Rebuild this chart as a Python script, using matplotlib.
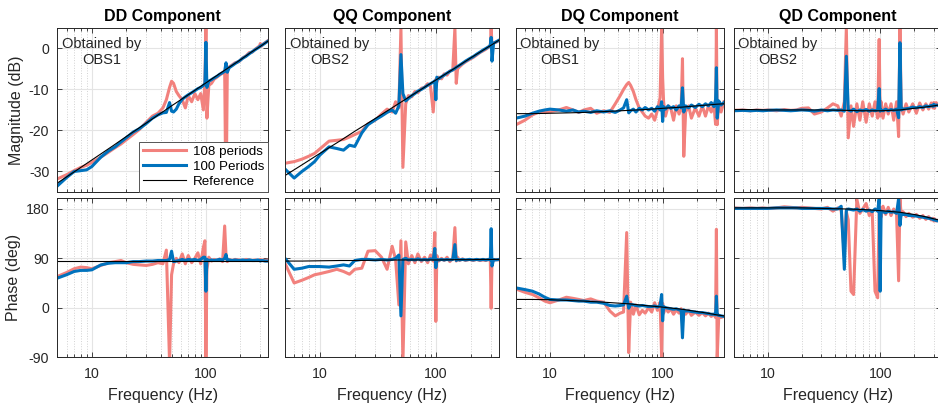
import matplotlib
matplotlib.use('Agg')
import matplotlib.pyplot as plt
import matplotlib.ticker as ticker

plt.rcParams['font.family'] = ['Liberation Sans', 'DejaVu Sans']
plt.rcParams['axes.unicode_minus'] = False

# measured frequency points (Hz)
freq = [5, 6, 7, 8, 9, 10, 12, 14, 16, 18,
        20, 23, 26, 30, 34, 38, 42, 45, 48, 50,
        52, 55, 58, 62, 66, 70, 75, 80, 85, 90,
        95, 98, 100, 102, 106, 112, 118, 125, 132, 140,
        146, 150, 154, 160, 170, 180, 195, 210, 225, 240,
        255, 270, 285, 295, 300, 305, 315, 330, 350]

# reference model points
ref_freq = [5, 7, 10, 15, 20, 30, 50, 70, 100, 150, 200, 250, 300, 350]

# ---- DD ----
dd_mag_108 = [-31.8, -30.8, -29.8, -29.0, -28.5, -27.8, -26.5, -25.3, -24.2, -23.3,
              -22.3, -21.0, -19.8, -18.0, -16.5, -15.8, -14.5, -12.5, -9.5, -8.0,
              -8.5, -10.5, -11.5, -12.5, -14.5, -11.5, -13.0, -11.0, -12.5, -11.0,
              -15.0, -8.0, 5.0, -17.0, -9.0, -8.5, -7.5, -7.0, -6.5, -6.0,
              -5.5, -40.0, -5.0, -4.5, -4.0, -3.5, -3.2, -2.3, -1.8, -1.0,
              -0.9, -0.2, 0.3, 0.6, 1.2, 0.5, 1.0, 1.4, 1.9]
dd_mag_100 = [-33.5, -31.5, -30.0, -29.8, -29.6, -28.8, -26.5, -25.0, -24.0, -22.8,
              -21.8, -20.4, -19.6, -18.3, -17.0, -16.2, -15.7, -15.6, -13.2, -15.3,
              -15.5, -14.8, -13.5, -12.4, -11.8, -11.3, -10.8, -10.3, -9.8, -9.5,
              -9.0, -8.5, 1.5, -9.5, -8.0, -7.6, -7.2, -6.8, -6.3, -5.9,
              -5.6, -3.5, -5.8, -4.7, -4.2, -3.7, -3.1, -2.4, -1.9, -1.3,
              -0.8, -0.3, 0.1, 0.4, 0.6, 0.7, 0.9, 1.3, 1.8]
dd_mag_ref = [-32.8, -30.1, -27.2, -23.9, -21.5, -18.2, -14.0, -11.3, -8.4, -5.1, -2.8, -0.9, 0.5, 1.8]

dd_ph_108 = [57, 64, 71, 74, 73, 71, 77, 82, 84, 86,
             82, 79, 78, 77, 79, 82, 80, 105, -100, 60,
             80, 90, 82, 98, 80, 95, 82, 90, 100, 80,
             110, 122, -100, 70, 92, 85, 88, 86, 89, 84,
             149, 95, 84, 88, 86, 88, 87, 86, 88, 87,
             86, 87, 86, 87, 88, 86, 87, 86, 87]
dd_ph_100 = [54, 60, 66, 68, 68, 69, 78, 81, 82, 82,
             82, 84, 84, 85, 85, 86, 86, 86, 88, 103,
             84, 85, 86, 88, 86, 88, 87, 88, 86, 88,
             92, 92, 30, 88, 86, 87, 86, 87, 88, 87,
             90, 97, 86, 87, 86, 87, 86, 87, 86, 87,
             86, 86, 87, 86, 85, 86, 86, 85, 85]
dd_ph_ref = [85, 85, 85, 85, 85, 85, 85, 85, 85, 85, 85, 85, 85, 85]

# ---- QQ ----
qq_mag_108 = [-28.0, -27.6, -27.0, -26.3, -25.6, -24.5, -22.6, -22.4, -22.2, -21.6,
              -21.0, -20.2, -18.4, -17.5, -16.0, -14.8, -15.5, -13.0, -14.5, 5.0,
              -29.0, -13.5, -11.5, -11.8, -10.5, -10.8, -9.7, -9.5, -8.6, -9.2,
              -15.5, -9.0, -7.5, -8.2, -7.0, -7.4, -6.2, -6.5, -5.5, -5.3,
              5.0, -8.5, -5.0, -4.5, -3.8, -3.3, -2.7, -2.2, -1.6, -1.0,
              -0.6, -0.2, 0.3, 0.6, 5.0, 0.8, 1.3, 1.5, 1.9]
qq_mag_100 = [-29.4, -31.6, -30.0, -28.8, -27.6, -26.0, -24.0, -24.4, -24.8, -23.6,
              -23.9, -20.6, -18.6, -17.4, -16.5, -15.6, -15.0, -15.8, -14.0, -1.5,
              -11.0, -12.8, -12.2, -11.5, -11.0, -10.4, -10.0, -9.5, -9.0, -8.6,
              -8.2, -7.9, -12.5, -7.0, -7.4, -6.9, -6.5, -6.0, -5.6, -5.2,
              -4.9, -4.6, -4.4, -4.1, -3.6, -3.1, -2.5, -2.0, -1.4, -0.9,
              -0.4, 0.0, 0.4, 0.8, 2.7, -3.1, 1.3, 1.6, 2.0]
qq_mag_ref = [-31.0, -28.4, -25.6, -22.5, -20.2, -17.1, -13.1, -10.5, -7.7, -4.6, -2.3, -0.6, 0.8, 2.0]

qq_ph_108 = [81, 45, 50, 55, 60, 62, 66, 70, 66, 61,
             70, 72, 103, 104, 92, 70, 112, 88, 5, 122,
             -100, 120, 80, 95, 82, 98, 84, 92, 82, 96,
             85, 137, -25, 95, 85, 90, 86, 92, 84, 90,
             146, 85, 92, 86, 89, 86, 88, 86, 88, 86,
             87, 86, 88, 86, -1, 88, 86, 88, 87]
qq_ph_100 = [90, 70, 72, 75, 75, 75, 74, 76, 78, 76,
             86, 88, 88, 87, 88, 87, 88, 90, 96, -15,
             88, 90, 87, 88, 87, 89, 87, 88, 87, 89,
             88, 108, 73, 88, 87, 88, 87, 88, 87, 88,
             115, 86, 88, 87, 88, 87, 88, 87, 88, 87,
             88, 87, 88, 87, 144, 76, 88, 87, 88]
qq_ph_ref = [85, 85, 85.5, 86, 86, 86.5, 87, 87, 87, 87.5, 87.5, 88, 88, 88]

# ---- DQ ----
dq_mag_108 = [-18.6, -17.5, -16.2, -15.5, -15.6, -15.4, -15.0, -14.4, -15.0, -15.6,
              -15.0, -14.6, -15.8, -15.2, -15.6, -13.5, -11.5, -10.0, -8.8, -8.3,
              -9.0, -10.5, -12.5, -14.5, -15.5, -16.5, -17.0, -16.0, -17.5, -15.0,
              -12.0, 5.0, -7.2, -13.0, -16.5, -14.0, -14.5, -17.5, -14.0, -16.0,
              -14.5, -2.5, -26.3, -15.5, -14.0, -17.0, -14.5, -16.5, -14.0, -16.5,
              -14.0, -15.5, -13.5, -18.5, 5.0, -18.6, -13.0, -15.5, -13.0]
dq_mag_100 = [-17.0, -16.5, -15.8, -15.3, -15.0, -14.8, -15.0, -15.3, -15.0, -15.5,
              -15.3, -15.6, -15.2, -15.5, -15.2, -15.6, -15.0, -14.5, -12.5, -15.7,
              -15.2, -14.8, -15.5, -14.6, -15.0, -14.4, -15.0, -14.6, -15.3, -14.2,
              -15.0, -13.0, -17.8, -14.2, -14.8, -14.0, -14.6, -14.2, -15.0, -14.0,
              -14.5, -9.6, -15.5, -14.0, -14.5, -13.8, -14.4, -13.6, -14.2, -13.5,
              -14.0, -13.2, -14.2, -12.5, -4.7, -17.0, -12.8, -13.8, -13.2]
dq_mag_ref = [-15.9, -15.9, -15.8, -15.7, -15.6, -15.4, -15.1, -14.9, -14.6, -14.3, -14.0, -13.8, -13.6, -13.5]

dq_ph_108 = [34, 28, 24, 18, 12, 9, 14, 19, 17, 15,
             13, 16, 12, 10, -6, -15, -10, -8, 137, -82,
             10, -12, 5, -13, -5, -10, 0, -8, 9, -5,
             10, -90, 8, -10, 0, -8, -2, -12, -4, -10,
             -2, -28, -6, -12, -5, -14, -8, -14, -9, -15,
             -10, -16, -12, -18, 143, -90, -14, -18, -16]
dq_ph_100 = [36, 33, 30, 25, 19, 15, 14, 14, 13, 12,
             12, 10, 10, 8, 4, 3, 4, 5, 21, -1,
             6, 5, 4, 3, 4, 3, 2, 2, 3, 1,
             4, 24, -24, 2, 0, -1, -2, -3, -2, -4,
             -5, -55, -4, -6, -6, -7, -8, -9, -9, -10,
             -11, -12, -12, -13, 21, -13, -14, -15, -16]
dq_ph_ref = [15, 15, 14.5, 13, 12, 10, 7, 4, 1, -3, -7, -10, -13, -15]

# ---- QD ----
qd_mag_108 = [-15.1, -15.0, -15.2, -15.0, -15.1, -15.0, -15.2, -14.9, -15.1, -15.0,
              -14.6, -14.5, -16.0, -15.5, -14.5, -13.5, -14.0, -16.5, -13.0, 5.0,
              -21.8, -14.0, -19.0, -13.5, -17.5, -13.0, -18.0, -13.5, -16.5, -13.0,
              -17.0, 2.2, -16.5, -13.0, -17.0, -13.5, -16.0, -13.5, -17.5, -13.0,
              -21.5, 5.0, -14.0, -16.0, -13.5, -15.5, -13.5, -15.8, -13.3, -15.0,
              -13.5, -14.8, -13.3, -14.5, -13.2, -14.6, -13.2, -14.0, -13.2]
qd_mag_100 = [-15.2, -15.1, -15.2, -15.1, -15.2, -15.1, -15.0, -15.1, -15.2, -15.1,
              -15.0, -15.1, -15.3, -15.0, -15.2, -15.0, -15.1, -15.0, -15.3, -1.9,
              -15.0, -15.3, -14.8, -15.4, -15.0, -15.2, -14.9, -15.3, -15.0, -15.2,
              -15.0, -9.8, -15.3, -15.0, -15.2, -14.8, -15.2, -14.9, -15.1, -14.8,
              -16.9, 1.4, -15.0, -14.8, -14.7, -14.6, -14.3, -14.5, -14.2, -14.4,
              -14.0, -14.2, -13.9, -14.1, -13.6, -14.0, -13.8, -13.9, -13.6]
qd_mag_ref = [-14.9, -14.9, -15.0, -15.0, -15.0, -15.0, -15.1, -15.2, -15.2, -15.0, -14.6, -14.3, -14.0, -13.7]

qd_ph_108 = [182, 181, 182, 181, 182, 181, 182, 184, 183, 182,
             183, 182, 181, 180, 183, 176, 182, 178, 95, 175,
             160, 30, 24, 198, 172, 180, 190, 168, 175, 30,
             18, 175, 183, 165, 185, 170, 183, 168, 180, 170,
             49, 198, 168, 175, 166, 172, 165, 170, 163, 168,
             161, 166, 160, 163, 158, 162, 158, 160, 157]
qd_ph_100 = [181, 181, 181, 181, 181, 181, 182, 182, 182, 182,
             181, 181, 181, 181, 181, 180, 180, 185, 70, 178,
             180, 179, 178, 180, 176, 179, 176, 178, 175, 180,
             176, 198, 30, 176, 175, 173, 176, 174, 175, 172,
             199, 150, 172, 170, 170, 168, 168, 167, 166, 165,
             164, 163, 162, 161, 160, 160, 159, 158, 158]
qd_ph_ref = [182, 182, 182, 182, 182, 181, 180, 179, 177, 174, 170, 166, 162, 159]

titles = ['DD Component', 'QQ Component', 'DQ Component', 'QD Component']
observers = ['OBS1', 'OBS2', 'OBS1', 'OBS2']
mag_data = [(dd_mag_108, dd_mag_100, dd_mag_ref), (qq_mag_108, qq_mag_100, qq_mag_ref),
            (dq_mag_108, dq_mag_100, dq_mag_ref), (qd_mag_108, qd_mag_100, qd_mag_ref)]
ph_data = [(dd_ph_108, dd_ph_100, dd_ph_ref), (qq_ph_108, qq_ph_100, qq_ph_ref),
           (dq_ph_108, dq_ph_100, dq_ph_ref), (qd_ph_108, qd_ph_100, qd_ph_ref)]

c108 = '#F2817D'
c100 = '#0072BD'
dark = '#262626'

fig = plt.figure(figsize=(9.38, 4.05), dpi=100)
lefts = [0.0613, 0.3038, 0.5501, 0.7825]
widths = [0.2244, 0.2281, 0.2217, 0.2210]


def style(ax, ylim, yticks, show_y, show_x):
    ax.set_xscale('log')
    ax.set_xlim(5, 350)
    ax.set_ylim(*ylim)
    ax.set_yticks(yticks)
    ax.set_xticks([10, 100])
    ax.xaxis.set_major_formatter(ticker.FuncFormatter(lambda v, _: f'{v:g}'))
    ax.xaxis.set_minor_locator(ticker.LogLocator(base=10, subs=range(2, 10), numticks=20))
    ax.xaxis.set_minor_formatter(ticker.NullFormatter())
    ax.grid(which='major', color='#e4e4e4', lw=0.8)
    ax.grid(which='minor', axis='x', color='#d2d2d2', ls=':', lw=0.7)
    ax.set_axisbelow(True)
    ax.tick_params(which='both', direction='in', top=True, right=True, color=dark,
                   labelcolor=dark, labelsize=10.2, width=0.6)
    ax.tick_params(which='major', length=3.5)
    ax.tick_params(which='minor', length=2)
    ax.tick_params(axis='x', which='major', pad=7)
    ax.tick_params(axis='y', which='major', pad=6)
    for s in ax.spines.values():
        s.set_color(dark)
        s.set_linewidth(0.7)
    if not show_y:
        ax.set_yticklabels([])
    if not show_x:
        ax.set_xticklabels([])


for i in range(4):
    ax = fig.add_axes([lefts[i], 0.526, widths[i], 0.405])
    y108, y100, yref = mag_data[i]
    ax.plot(freq, y108, color=c108, lw=2.2, label='108 periods')
    ax.plot(freq, y100, color=c100, lw=2.2, label='100 Periods')
    ax.plot(ref_freq, yref, color='black', lw=0.8, label='Reference')
    style(ax, (-35, 5), [-30, -20, -10, 0], i == 0, False)
    ax.set_title(titles[i], fontweight='bold', fontsize=11.5, pad=5, color='black')
    ax.text(0.21, 0.945, 'Obtained by\n' + observers[i], transform=ax.transAxes,
            ha='center', va='top', multialignment='center', fontsize=10.5, color=dark)
    if i == 0:
        ax.set_ylabel('Magnitude (dB)', fontsize=11.5, color=dark, labelpad=3)
        leg = ax.legend(loc='lower right', fontsize=9.6, fancybox=False, framealpha=1,
                        edgecolor='#555555', borderaxespad=0, handlelength=3.2,
                        labelspacing=0.2, borderpad=0.3, handletextpad=0.5)
        leg.get_frame().set_linewidth(0.7)

    ax = fig.add_axes([lefts[i], 0.1185, widths[i], 0.3926])
    y108, y100, yref = ph_data[i]
    ax.plot(freq, y108, color=c108, lw=2.2)
    ax.plot(freq, y100, color=c100, lw=2.2)
    ax.plot(ref_freq, yref, color='black', lw=0.8)
    style(ax, (-90, 200), [-90, 0, 90, 180], i == 0, True)
    ax.set_xlabel('Frequency (Hz)', fontsize=11.5, color=dark, labelpad=5)
    if i == 0:
        ax.set_ylabel('Phase (deg)', fontsize=11.5, color=dark, labelpad=3)

fig.savefig('out.png', dpi=100)
